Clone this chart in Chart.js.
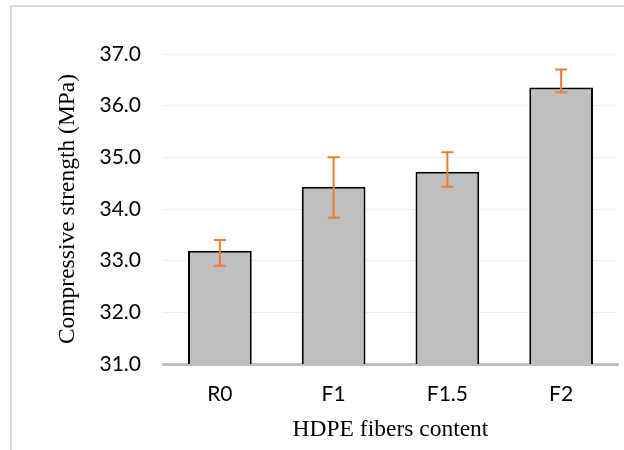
<!DOCTYPE html>
<html>
<head>
<meta charset="utf-8">
<script src="https://cdn.jsdelivr.net/npm/chart.js@4.4.1/dist/chart.umd.min.js"></script>
<style>
  html, body { margin: 0; padding: 0; background: #fff; }
  #wrap { position: relative; width: 624px; height: 450px; overflow: hidden; }
  #frame { position: absolute; left: 10px; top: 5px; width: 700px; height: 500px;
           border-left: 2px solid #d9d9d9; border-top: 2px solid #d9d9d9; }
  canvas { position: absolute; left: 0; top: 0; }
</style>
</head>
<body>
<div id="wrap">
  <div id="frame"></div>
  <canvas id="strength-chart" width="624" height="450"></canvas>
</div>
<script>
// Compressive strength per mix
var mixes = ["R0", "F1", "F1.5", "F2"];
var strength = [33.19, 34.43, 34.72, 36.35];
var errPlus = [0.21, 0.57, 0.38, 0.35];
var errMinus = [0.29, 0.60, 0.29, 0.09];

var serif = "'Liberation Serif', 'Times New Roman', serif";
var sans = "Lato, 'Open Sans', sans-serif";

// error bars drawn from the y scale
var errorBars = {
    id: "errorBars",
    afterDatasetsDraw: function(chart) {
        var ctx = chart.ctx;
        var y = chart.scales.y;
        var meta = chart.getDatasetMeta(0);
        ctx.save();
        ctx.strokeStyle = "#ED7D31";
        ctx.lineWidth = 2;
        for (var i = 0; i < meta.data.length; i++) {
            var x = meta.data[i].x;
            var top = y.getPixelForValue(strength[i] + errPlus[i]);
            var bot = y.getPixelForValue(strength[i] - errMinus[i]);
            ctx.beginPath();
            ctx.moveTo(x, top); ctx.lineTo(x, bot);
            ctx.moveTo(x - 6, top); ctx.lineTo(x + 6, top);
            ctx.moveTo(x - 6, bot); ctx.lineTo(x + 6, bot);
            ctx.stroke();
        }
        ctx.restore();
    }
};

var ctx = document.getElementById("strength-chart");
var barChart = new Chart(ctx, {
    type: "bar",
    data: {
        labels: mixes,
        datasets: [{
            label: "Compressive strength",
            data: strength,
            backgroundColor: "#BFBFBF",
            borderColor: "#000000",
            borderWidth: 2,
            categoryPercentage: 1,
            barPercentage: 0.56
        }]
    },
    options: {
        responsive: false,
        animation: false,
        layout: { padding: { left: 54, right: 6, top: 54, bottom: 0 } },
        plugins: { legend: { display: false }, tooltip: { enabled: false } },
        scales: {
            x: {
                grid: { display: false },
                border: { color: "#BFBFBF", width: 3 },
                ticks: { color: "#000", font: { family: sans, size: 21 }, padding: 10 },
                title: { display: true, text: "HDPE fibers content", color: "#000",
                         font: { family: serif, size: 23.5 }, padding: { top: 0, bottom: 6 } },
                afterFit: function(scale) { scale.height = 86; }
            },
            y: {
                min: 31, max: 37,
                grid: { color: "#EEEEEE", lineWidth: 1, drawTicks: false },
                border: { display: false },
                ticks: { stepSize: 1, color: "#000", font: { family: sans, size: 21 }, padding: 22,
                         callback: function(v) { return v.toFixed(1); } },
                title: { display: true, text: "Compressive strength (MPa)", color: "#000",
                         font: { family: serif, size: 23.5 }, padding: 0 },
                afterFit: function(scale) { scale.width = 109; }
            }
        }
    },
    plugins: [errorBars]
});
</script>
</body>
</html>
